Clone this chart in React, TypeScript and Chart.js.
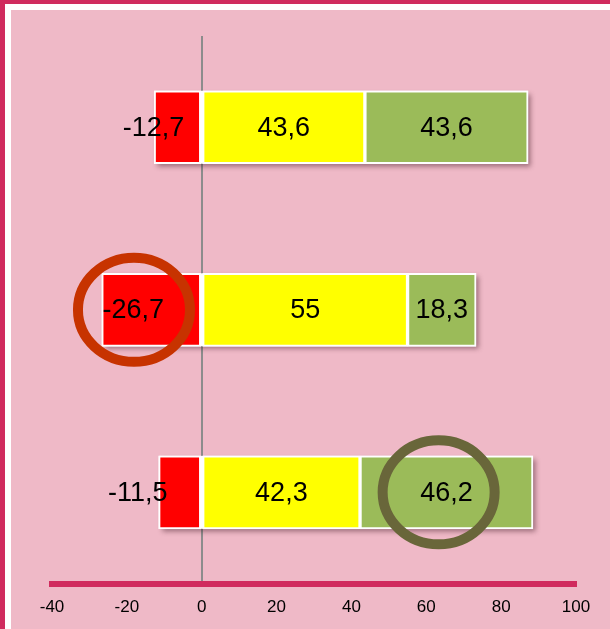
import React, { useEffect, useRef } from "react";
import { Chart, registerables } from "chart.js";

Chart.register(...registerables);

const categories = ["A", "B", "C"];
const negativeValues = [-12.7, -26.7, -11.5];
const neutralValues = [43.6, 55, 42.3];
const positiveValues = [43.6, 18.3, 46.2];
const xTicks = [-40, -20, 0, 20, 40, 60, 80, 100];

// annotation circles: [x value, category index]
const circleMarks = [
  { x: -18.1, cat: 1, color: "#c73300" },
  { x: 63.3, cat: 2, color: "#69663a" },
];
const negLabelShift = [-24, -18, -42];

const PINK_BG = "#efb9c7";
const DARK_PINK = "#d02b5e";
const FONT = "'Liberation Sans', Arial, sans-serif";

const fmt = (v: number) => String(v).replace(".", ",");

const shadowPlugin = {
  id: "barShadow",
  beforeDatasetsDraw(chart: any) {
    const ctx = chart.ctx;
    const metas = chart.getSortedVisibleDatasetMetas();
    categories.forEach((_, i) => {
      let l = Infinity, r = -Infinity, y = 0, h = 0;
      metas.forEach((m: any) => {
        const el = m.data[i];
        if (!el) return;
        const p = el.getProps(["x", "y", "base", "height"], true);
        l = Math.min(l, p.x, p.base);
        r = Math.max(r, p.x, p.base);
        y = p.y;
        h = p.height;
      });
      ctx.save();
      ctx.shadowColor = "rgba(60,20,30,0.45)";
      ctx.shadowBlur = 5;
      ctx.shadowOffsetX = 3;
      ctx.shadowOffsetY = 3;
      ctx.fillStyle = "#ffffff";
      ctx.fillRect(l, y - h / 2, r - l, h);
      ctx.restore();
    });
  },
};

const overlayPlugin = {
  id: "overlay",
  afterDraw(chart: any) {
    const ctx = chart.ctx;
    ctx.save();
    ctx.font = `27px ${FONT}`;
    ctx.fillStyle = "#000";
    ctx.textAlign = "center";
    ctx.textBaseline = "middle";
    chart.data.datasets.forEach((ds: any, di: number) => {
      const meta = chart.getDatasetMeta(di);
      meta.data.forEach((el: any, i: number) => {
        const p = el.getProps(["x", "y", "base"], true);
        let cx = (p.x + p.base) / 2;
        if (di === 0) cx += negLabelShift[i];
        ctx.fillText(fmt(ds.data[i]), cx, p.y + 1);
      });
    });
    const xs = chart.scales.x;
    const ys = chart.scales.y;
    circleMarks.forEach((c) => {
      const cx = xs.getPixelForValue(c.x);
      const cy = ys.getPixelForValue(c.cat);
      ctx.beginPath();
      ctx.ellipse(cx, cy, 56, 52, 0, 0, Math.PI * 2);
      ctx.lineWidth = 10;
      ctx.strokeStyle = c.color;
      ctx.stroke();
    });
    ctx.restore();
  },
};

export default function App() {
  const ref = useRef<HTMLCanvasElement>(null);
  useEffect(() => {
    document.body.style.margin = "0";
    const chart = new Chart(ref.current!, {
      type: "bar",
      data: {
        labels: categories,
        datasets: [
          { data: negativeValues, backgroundColor: "#ff0000" },
          { data: neutralValues, backgroundColor: "#ffff00" },
          { data: positiveValues, backgroundColor: "#9bbb59" },
        ].map((d) => ({
          ...d,
          borderColor: "#ffffff",
          borderWidth: 2,
          borderSkipped: false,
          barThickness: 73,
        })),
      },
      options: {
        indexAxis: "y",
        animation: false,
        responsive: false,
        maintainAspectRatio: false,
        layout: { padding: { left: 52, right: 34, top: 36, bottom: 13 } },
        plugins: {
          legend: { display: false },
          tooltip: { enabled: false },
        },
        scales: {
          x: {
            type: "linear",
            stacked: true,
            min: -40,
            max: 100,
            z: 1,
            afterBuildTicks: (scale: any) => {
              scale.ticks = xTicks.map((v) => ({ value: v }));
            },
            ticks: {
              color: "#000",
              padding: 14,
              font: { family: FONT, size: 17 },
            },
            grid: {
              drawTicks: false,
              color: (c: any) => (c.tick && c.tick.value === 0 ? "#8c8c8c" : "rgba(0,0,0,0)"),
              lineWidth: 2,
            },
            border: { display: true, color: DARK_PINK, width: 6 },
          },
          y: {
            stacked: true,
            display: false,
          },
        },
      },
      plugins: [shadowPlugin, overlayPlugin],
    } as any);
    return () => chart.destroy();
  }, []);

  return (
    <div style={{ position: "fixed", left: 0, top: 0, width: 610, height: 629, background: DARK_PINK, overflow: "hidden" }}>
      <div style={{ position: "absolute", left: 5, top: 4, right: -20, bottom: -20, background: "#ffffff" }} />
      <div style={{ position: "absolute", left: 11, top: 10, right: -20, bottom: -20, background: PINK_BG }} />
      <canvas ref={ref} width={610} height={645} style={{ position: "absolute", left: 0, top: 0, width: 610, height: 645 }} />
    </div>
  );
}
